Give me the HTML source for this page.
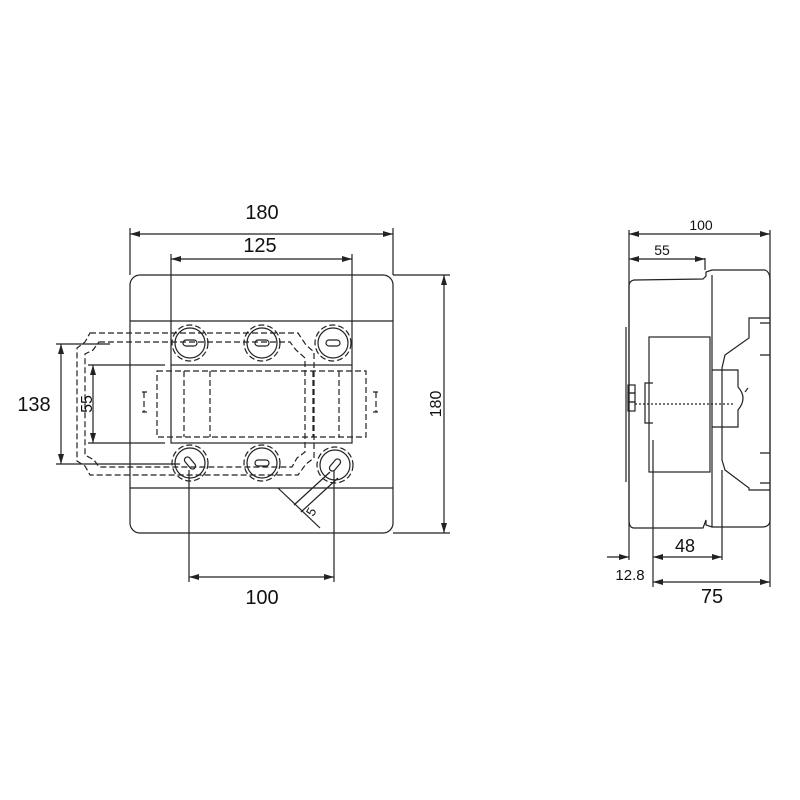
<!DOCTYPE html>
<html><head><meta charset="utf-8"><style>html,body{margin:0;padding:0;background:#fff}svg{display:block}</style></head>
<body>
<svg width="800" height="800" viewBox="0 0 800 800" xmlns="http://www.w3.org/2000/svg" font-family="Liberation Sans, sans-serif">
<defs>
<marker id="a" viewBox="0 0 10 6" refX="10" refY="3" markerWidth="10" markerHeight="6" orient="auto-start-reverse" markerUnits="userSpaceOnUse"><path d="M0,0L10,3L0,6z" fill="#222"/></marker>
</defs>
<g stroke="#222" stroke-width="1.2" fill="none">
<rect x="130" y="275" width="263" height="258" rx="10"/>
<line x1="130" y1="321" x2="393" y2="321"/>
<line x1="130" y1="488" x2="393" y2="488"/>
<line x1="130" y1="228" x2="130" y2="275"/><line x1="393" y1="228" x2="393" y2="275"/>
<line x1="130" y1="234" x2="393" y2="234" marker-start="url(#a)" marker-end="url(#a)"/>
<line x1="171" y1="254" x2="171" y2="365"/><line x1="352" y1="254" x2="352" y2="365"/>
<line x1="171" y1="259" x2="352" y2="259" marker-start="url(#a)" marker-end="url(#a)"/>
<line x1="393" y1="275" x2="450" y2="275"/><line x1="393" y1="533" x2="450" y2="533"/>
<line x1="444" y1="275" x2="444" y2="533" marker-start="url(#a)" marker-end="url(#a)"/>
<line x1="56" y1="344" x2="110" y2="344"/><line x1="56" y1="464" x2="180" y2="464"/>
<line x1="61" y1="344" x2="61" y2="464" marker-start="url(#a)" marker-end="url(#a)"/>
<line x1="88" y1="365" x2="165" y2="365"/><line x1="88" y1="443" x2="165" y2="443"/>
<line x1="93" y1="365" x2="93" y2="443" marker-start="url(#a)" marker-end="url(#a)"/>
<line x1="189" y1="470" x2="189" y2="582"/><line x1="334" y1="470" x2="334" y2="582"/>
<line x1="189" y1="577" x2="334" y2="577" marker-start="url(#a)" marker-end="url(#a)"/>
<rect x="171" y="365" width="181" height="78"/>
<g stroke-dasharray="6,3">
<path d="M90,333 L298,333 L306,345 L314,352 L314,458 L306,464 L298,475 L90,475 L85,466 L77,461 L77,348 L85,342 Z"/>
<path d="M99,342 L290,342 L296,350 L305,358 L305,452 L297,458 L292,467 L99,467 L94,460 L85,455 L85,354 L93,350 Z"/>
<rect x="157" y="371" width="209" height="66"/>
<line x1="184" y1="371" x2="184" y2="437"/><line x1="210" y1="371" x2="210" y2="437"/>
<line x1="313" y1="371" x2="313" y2="437"/><line x1="339" y1="371" x2="339" y2="437"/>
<path d="M142,392 h5 M144,392 v20 M142,412 h5"/>
<path d="M373,392 h5 M376,392 v20 M373,412 h5"/>
<circle cx="190" cy="343" r="18"/><circle cx="262" cy="343" r="18"/><circle cx="333" cy="343" r="18"/>
<circle cx="190" cy="463" r="18"/><circle cx="262" cy="463" r="18"/><circle cx="335" cy="465" r="18"/>
</g>
<circle cx="190" cy="343" r="15"/><circle cx="262" cy="343" r="15"/><circle cx="333" cy="343" r="15"/>
<circle cx="190" cy="463" r="15"/><circle cx="262" cy="463" r="15"/><circle cx="335" cy="465" r="15"/>
<rect x="183" y="340" width="14" height="6" rx="3"/><rect x="255" y="340" width="14" height="6" rx="3"/><rect x="326" y="340" width="14" height="6" rx="3"/>
<rect x="255" y="460" width="14" height="6" rx="3"/>
<rect x="183" y="460" width="14" height="6" rx="3" transform="rotate(50 190 463)"/>
<rect x="328" y="462" width="14" height="6" rx="3" transform="rotate(-50 335 465)"/>
<line x1="330" y1="472" x2="294" y2="505"/><line x1="338" y1="478" x2="301" y2="512"/>
<line x1="278" y1="488" x2="320" y2="528"/>
<path d="M634,280 L703,279 L706,276 L706,272 L712,270 L765,270 Q770,272 770,280 L770,520 Q770,527 762,527 L712,527 L706,525 L706,520 L703,528 L634,528 Q629,528 629,520 L629,286 Q629,281 634,280 Z"/>
<line x1="712" y1="275" x2="712" y2="527"/>
<path d="M770,318 L749,318 L749,338 L725,355 L722,368 L722,460 L725,470 L749,488 L749,490 L770,490"/>
<path d="M770,323 L760,323 M770,355 L760,355 M770,453 L760,453 M770,483 L760,483"/>
<rect x="649" y="337" width="61" height="135"/>
<path d="M712,370 L738,370 L738,387 Q748,398 738,410 L738,427 L712,427"/>
<path d="M745,392 l3,-4"/>
<line x1="626" y1="327" x2="626" y2="482"/>
<rect x="628" y="385" width="7" height="8"/><rect x="628" y="393" width="7" height="9"/><rect x="628" y="402" width="7" height="9"/>
<path d="M653,383 L645,383 L645,423 L653,423"/>
<line x1="635" y1="404" x2="735" y2="404" stroke-dasharray="2,2"/>
<line x1="629" y1="230" x2="629" y2="560"/><line x1="770" y1="230" x2="770" y2="587"/>
<line x1="629" y1="234" x2="770" y2="234" marker-start="url(#a)" marker-end="url(#a)"/>
<line x1="705" y1="258" x2="705" y2="270"/>
<line x1="629" y1="259" x2="705" y2="259" marker-start="url(#a)" marker-end="url(#a)"/>
<line x1="653" y1="440" x2="653" y2="587"/><line x1="722" y1="470" x2="722" y2="560"/>
<line x1="653" y1="557" x2="722" y2="557" marker-start="url(#a)" marker-end="url(#a)"/>
<line x1="607" y1="557" x2="629" y2="557" marker-end="url(#a)"/>
<line x1="653" y1="582" x2="770" y2="582" marker-start="url(#a)" marker-end="url(#a)"/>
</g>
<g fill="#111" stroke="none">
<text x="262" y="219" font-size="20" text-anchor="middle">180</text>
<text x="260" y="252" font-size="20" text-anchor="middle">125</text>
<text x="262" y="604" font-size="20" text-anchor="middle">100</text>
<text x="34" y="411" font-size="20" text-anchor="middle">138</text>
<text transform="translate(92,404) rotate(-90)" font-size="16" text-anchor="middle">55</text>
<text transform="translate(441,404) rotate(-90)" font-size="16" text-anchor="middle">180</text>
<text transform="translate(315,514) rotate(-60)" font-size="13" text-anchor="middle">5</text>
<text x="701" y="230" font-size="14" text-anchor="middle">100</text>
<text x="662" y="255" font-size="14" text-anchor="middle">55</text>
<text x="685" y="552" font-size="18" text-anchor="middle">48</text>
<text x="630" y="580" font-size="15" text-anchor="middle">12.8</text>
<text x="712" y="603" font-size="20" text-anchor="middle">75</text>
</g>
</svg>
</body></html>
